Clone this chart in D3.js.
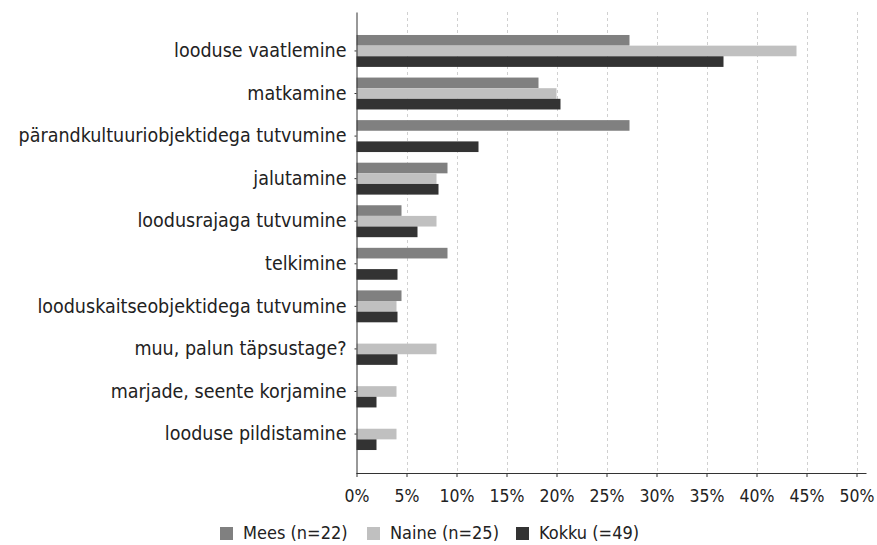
<!DOCTYPE html>
<html>
<head>
<meta charset="utf-8">
<script src="https://cdn.jsdelivr.net/npm/d3@7"></script>
<style>
  body { margin: 0; background: #fff; }
  text { font-family: "DejaVu Sans Condensed", "DejaVu Sans", sans-serif; fill: #222; }
</style>
</head>
<body>
<svg id="chart" width="877" height="545"></svg>
<script>
// Data
const categories = [
  "looduse vaatlemine",
  "matkamine",
  "pärandkultuuriobjektidega tutvumine",
  "jalutamine",
  "loodusrajaga tutvumine",
  "telkimine",
  "looduskaitseobjektidega tutvumine",
  "muu, palun täpsustage?",
  "marjade, seente korjamine",
  "looduse pildistamine"
];
const seriesNames = ["Mees (n=22)", "Naine (n=25)", "Kokku (=49)"];
const mees = [27.3, 18.2, 27.3, 9.1, 4.5, 9.1, 4.5, 0, 0, 0];
const naine = [44, 20, 0, 8, 8, 0, 4, 8, 4, 4];
const kokku = [36.7, 20.4, 12.2, 8.2, 6.1, 4.1, 4.1, 4.1, 2.0, 2.0];
const xTicks = [0, 5, 10, 15, 20, 25, 30, 35, 40, 45, 50];
const colors = ["#808080", "#c0c0c0", "#333333"];

const series = [mees, naine, kokku];

// Layout
const plot = { left: 356.5, right: 856.5, top: 12, bottom: 473 };
const fontFamily = '"DejaVu Sans Condensed", "DejaVu Sans", sans-serif';

const svg = d3.select("#chart");

const xScale = d3.scaleLinear().domain([0, 50]).range([plot.left, plot.right]);

const yScale = d3.scaleBand()
  .domain(categories)
  .range([plot.top, plot.bottom])
  .paddingInner(0.25)
  .paddingOuter(0.54);

const subScale = d3.scaleBand()
  .domain(d3.range(series.length))
  .range([0, yScale.bandwidth()]);

// Grid lines
svg.append("g")
  .selectAll("line")
  .data(xTicks.slice(1))
  .join("line")
  .attr("x1", (d) => Math.round(xScale(d)) + 0.5)
  .attr("x2", (d) => Math.round(xScale(d)) + 0.5)
  .attr("y1", plot.top)
  .attr("y2", plot.bottom)
  .style("stroke", "#d0d0d0")
  .style("stroke-width", 1)
  .style("stroke-dasharray", "3,3");

// Bars
const groups = svg.append("g")
  .selectAll("g")
  .data(categories)
  .join("g")
  .attr("transform", (d) => `translate(0,${yScale(d)})`);

groups.selectAll("rect")
  .data((d, i) => series.map((s, j) => ({ s: j, v: s[i] })))
  .join("rect")
  .attr("x", xScale(0))
  .attr("y", (d) => subScale(d.s))
  .attr("width", (d) => xScale(d.v) - xScale(0))
  .attr("height", subScale.bandwidth())
  .style("fill", (d) => colors[d.s]);

// Axes
const xAxis = d3.axisBottom(xScale)
  .tickValues(xTicks)
  .tickFormat((d) => d + "%")
  .tickSize(4)
  .tickSizeOuter(0);

const xAxisGroup = svg.append("g")
  .attr("transform", `translate(0,${plot.bottom})`)
  .call(xAxis);

xAxisGroup.select(".domain")
  .attr("d", `M${plot.left},0.5H${plot.right + 10}`)
  .style("stroke", "#333");
xAxisGroup.selectAll(".tick line").style("stroke", "#333");
xAxisGroup.selectAll(".tick text")
  .attr("y", 17)
  .style("font-family", fontFamily)
  .style("font-size", "17.5px")
  .style("fill", "#222");

const yAxis = d3.axisLeft(yScale).tickSize(2).tickSizeOuter(0).tickPadding(8);

const yAxisGroup = svg.append("g")
  .attr("transform", `translate(${plot.left},0)`)
  .call(yAxis);

yAxisGroup.select(".domain").style("stroke", "#333");
yAxisGroup.selectAll(".tick line").style("stroke", "#333");
yAxisGroup.selectAll(".tick text")
  .style("font-family", fontFamily)
  .style("font-size", "19.5px")
  .style("fill", "#222");

// Legend
const legendX = [220, 367, 516];
const legend = svg.append("g")
  .selectAll("g")
  .data(seriesNames)
  .join("g")
  .attr("transform", (d, i) => `translate(${legendX[i]},527)`);

legend.append("rect")
  .attr("width", 13)
  .attr("height", 13)
  .style("fill", (d, i) => colors[i]);

legend.append("text")
  .attr("x", 23)
  .attr("y", 6)
  .attr("dy", "0.35em")
  .style("font-size", "18px")
  .text((d) => d);
</script>
</body>
</html>
